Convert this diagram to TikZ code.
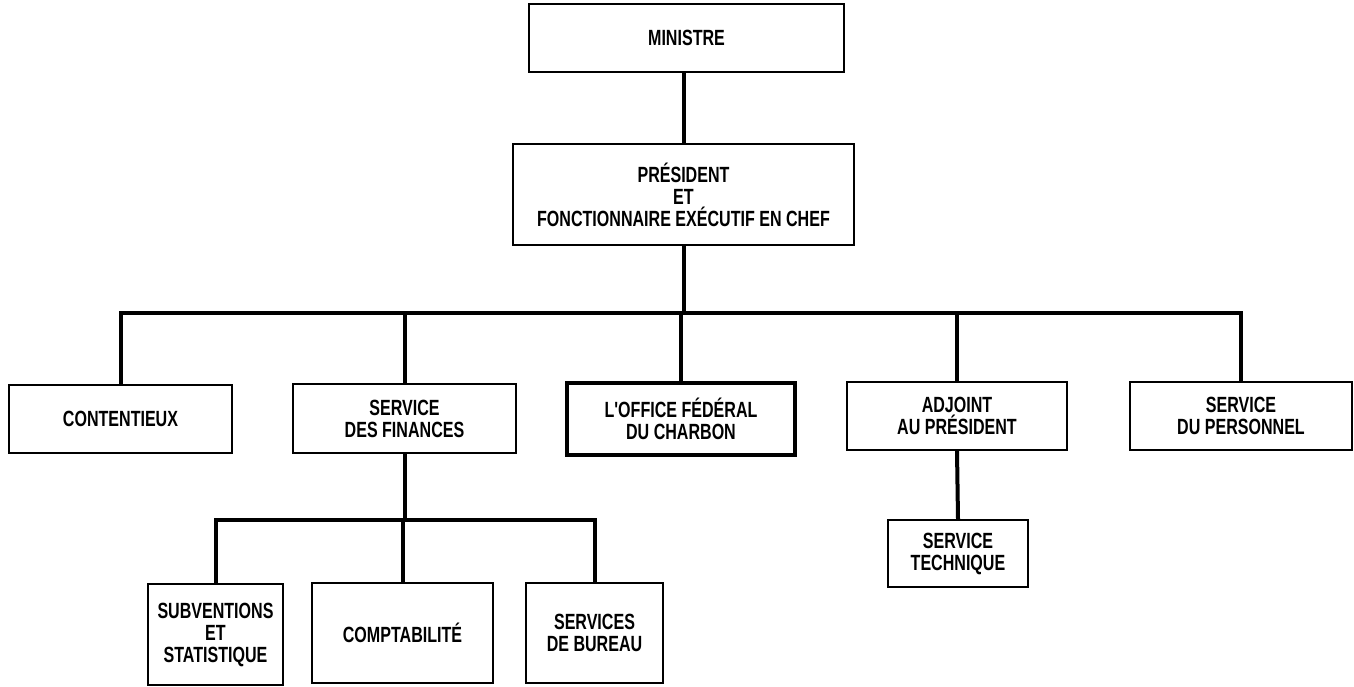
\documentclass[tikz,border=0pt]{standalone}
\usepackage{fontspec}
\setmainfont{Liberation Sans}[FakeStretch=0.73,Ligatures=TeXOff]
\begin{document}
\begin{tikzpicture}[x=1pt,y=-1pt,
  box/.style={draw,line width=2.2pt,align=center,inner sep=2pt,
    font=\fontsize{22}{22}\selectfont\bfseries},
  heavybox/.style={box,line width=3.5pt},
  conn/.style={line width=4pt}]
\useasboundingbox (0,0) rectangle (1354,687);

% top of the hierarchy
\node[box,minimum width=315,minimum height=68] (ministre) at (686.5,38) {MINISTRE};
\node[box,minimum width=341,minimum height=101] (president) at (683.5,194.5)
  {PRÉSIDENT\\ET\\FONCTIONNAIRE EXÉCUTIF EN CHEF};

% second level
\node[box,minimum width=223,minimum height=68] (contentieux) at (120.5,419) {CONTENTIEUX};
\node[box,minimum width=223,minimum height=69] (finances) at (404.5,418.5) {SERVICE\\DES FINANCES};
\node[heavybox,minimum width=228,minimum height=72] (office) at (681,419) {L'OFFICE FÉDÉRAL\\DU CHARBON};
\node[box,minimum width=220,minimum height=68] (adjoint) at (957,416) {ADJOINT\\AU PRÉSIDENT};
\node[box,minimum width=222,minimum height=68] (personnel) at (1241,416) {SERVICE\\DU PERSONNEL};

% third level
\node[box,minimum width=140,minimum height=67] (technique) at (958,553.5) {SERVICE\\TECHNIQUE};
\node[box,minimum width=135,minimum height=101] (subventions) at (215.5,634.5) {SUBVENTIONS\\ET\\STATISTIQUE};
\node[box,minimum width=181,minimum height=100] (comptabilite) at (402.5,633) {COMPTABILITÉ};
\node[box,minimum width=137,minimum height=100] (bureau) at (594.5,633) {SERVICES\\DE BUREAU};

% bus lines
\coordinate (bus) at (683.5,313);
\coordinate (subbus) at (404.5,520);

% connectors
\draw[conn] (president.north) -- (president.north |- ministre.south);
\draw[conn] (president.south) -- (bus);
\draw[conn] (contentieux.north) |- (bus) -| (personnel.north);
\draw[conn] (finances.north) -- (finances.north |- bus);
\draw[conn] (office.north) -- (office.north |- bus);
\draw[conn] (adjoint.north) -- (adjoint.north |- bus);
\draw[conn] (adjoint.south) -- (technique.north);
\draw[conn] (finances.south) -- (subbus);
\draw[conn] (subventions.north) |- (subbus) -| (bureau.north);
\draw[conn] (comptabilite.north) -- (comptabilite.north |- subbus);
\end{tikzpicture}
\end{document}
